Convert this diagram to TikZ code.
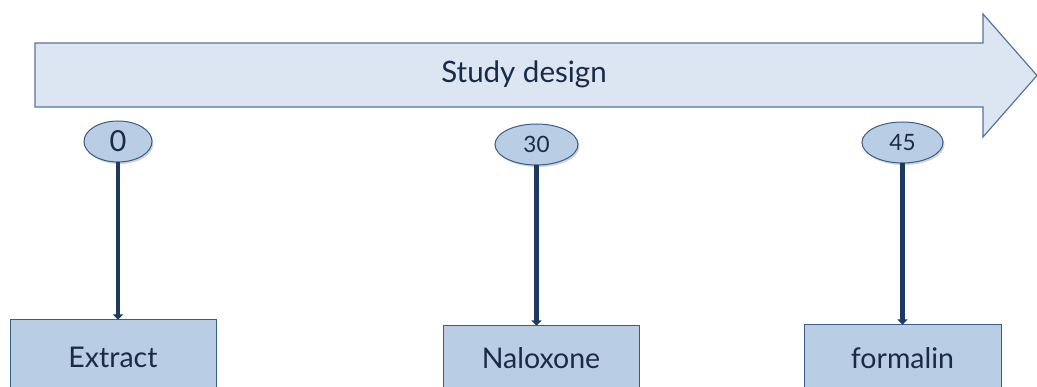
\documentclass[tikz,border=0pt]{standalone}
\usepackage{fontspec}
\setmainfont{Lato}
\usetikzlibrary{arrows.meta,shadows,shapes.geometric}
\definecolor{arrowfill}{HTML}{DCE6F2}
\definecolor{arrowline}{HTML}{5A7399}
\definecolor{boxfill}{HTML}{B9CDE5}
\definecolor{boxline}{HTML}{385D8A}
\definecolor{conn}{HTML}{1F3A60}
\definecolor{txt}{HTML}{1A2B48}
\begin{document}
\begin{tikzpicture}[x=1pt,y=-1pt,
  every node/.style={text=txt},
  timept/.style={ellipse,draw=boxline,fill=boxfill,line width=1pt,minimum width=#1,minimum height=41pt,inner sep=0pt,
     drop shadow={shadow xshift=1.5pt,shadow yshift=-2pt,fill=black!35,opacity=0.5},font=\fontsize{22.5}{24}\selectfont},
  stagebox/.style={rectangle,draw=boxline,fill=boxfill,line width=1pt,minimum width=#1,inner sep=0pt,font=\fontsize{28.5}{30}\selectfont},
  link/.style={draw=conn,line width=4.2pt,-{Triangle[length=5pt,width=10pt]}}]
\useasboundingbox (0,0) rectangle (1037,387);
\clip (0,0) rectangle (1037,387);
% big arrow
\draw[fill=arrowfill,draw=arrowline,line width=1.2pt]
  (35,43) -- (983,43) -- (983,14) -- (1037,75.5) -- (983,137) -- (983,107) -- (35,107) -- cycle;
\node[font=\fontsize{29.5}{32}\selectfont] (title) at (524,74) {Study design};
% time points
\node[timept=68pt,font=\fontsize{29}{30}\selectfont] (t0) at (118,141.5) {0};
\node[timept=83pt] (t30) at (536.5,144.5) {30};
\node[timept=81pt] (t45) at (902.5,142.5) {45};
% boxes
\node[stagebox=206pt,minimum height=74pt] (extract) at (113,357) {Extract};
\node[stagebox=196pt,minimum height=64pt] (nalox) at (541,358) {Naloxone};
\node[stagebox=197pt,minimum height=66pt] (form) at (902.5,358) {formalin};
% connectors
\draw[link] (t0.south) -- (t0.south |- extract.north);
\draw[link] (t30.south) -- (t30.south |- nalox.north);
\draw[link] (t45.south) -- (t45.south |- form.north);
\end{tikzpicture}
\end{document}
